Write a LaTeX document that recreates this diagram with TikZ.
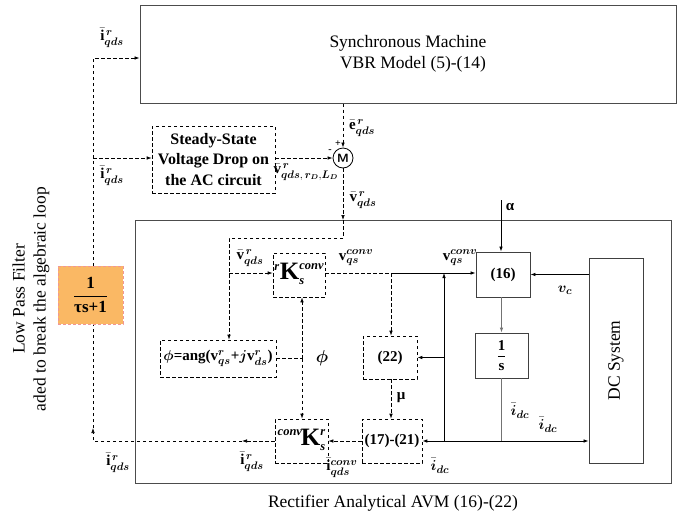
\documentclass[tikz,border=0pt]{standalone}
\usepackage{amsmath}
\usepackage{fontspec}
\setmainfont{Liberation Serif}
\usepackage{bm}
\usetikzlibrary{arrows.meta}
\newcommand{\iqr}{$\bar{\mathbf{i}}^{\,\bm r}_{\bm{qds}}$}
\newcommand{\vqr}{$\bar{\mathbf{v}}^{\,\bm r}_{\bm{qds}}$}
\newcommand{\vconv}{$\mathbf{v}^{\bm{conv}}_{\bm{qs}}$}
\newcommand{\idc}{$\bar{\bm{i}}_{\bm{dc}}$}
\newcommand{\smtx}[1]{{\fontsize{12.5}{13}\selectfont\bfseries\itshape #1}}
\newcommand{\bigK}{{\fontsize{25}{25}\selectfont\bfseries K}}
\begin{document}
\begin{tikzpicture}[x=1pt,y=-1pt,
  >={Latex[length=5pt,width=3.6pt]},
  dl/.style={dash pattern=on 3.5pt off 2.5pt, line width=0.7pt},
  sl/.style={line width=0.8pt},
  gl/.style={line width=0.9pt, draw=black!55},
  bigbox/.style={draw=black!70, line width=1pt, inner sep=0pt},
  dbox/.style={draw, dash pattern=on 3.5pt off 2.5pt, line width=0.7pt, inner sep=0pt, align=center},
  sbox/.style={draw=black!75, line width=0.9pt, inner sep=0pt, align=center},
  lab/.style={font=\fontsize{15}{16}\selectfont, inner sep=1pt},
  big/.style={font=\fontsize{17.5}{21}\selectfont},
  boxtxt/.style={font=\fontsize{15}{18}\selectfont\bfseries}
  ]
\useasboundingbox (0,0) rectangle (695,520);

% main boxes
\node[bigbox, minimum width=536, minimum height=98, big, align=center] (sm) at (408,54) {Synchronous Machine\\\hspace*{10pt}VBR Model (5)-(14)};
\node[dbox, minimum width=123, minimum height=67, font=\fontsize{16}{20.5}\selectfont\bfseries] (ss) at (213.5,159.5) {Steady-State\\Voltage Drop on\\the AC circuit};
\node[draw, circle, minimum size=20, inner sep=0pt, line width=0.8pt, font=\fontsize{12}{12}\selectfont\sffamily\bfseries] (sum) at (343,158) {M};
\node[bigbox, minimum width=536, minimum height=263] (rect) at (403,351.5) {};
\node[big] at (393,503) {Rectifier Analytical AVM (16)-(22)};

\node[dbox, minimum width=52, minimum height=44] (ku) at (299,275) {};
\node[sbox, minimum width=54, minimum height=45, boxtxt] (s16) at (503,274.5) {(16)};
\node[dbox, minimum width=54, minimum height=43, boxtxt] (s22) at (390,357.5) {(22)};
\node[sbox, minimum width=53, minimum height=45, font=\fontsize{15}{18}\selectfont] (ints) at (501.5,355.5) {$\dfrac{\mathbf{1}}{\mathbf{s}}$};
\node[sbox, minimum width=54, minimum height=205] (dc) at (616,360.5) {};
\node[rotate=90, big] at (dc) {DC System};
\node[dbox, minimum width=60, minimum height=44, boxtxt] (s17) at (392,441) {(17)-(21)};
\node[dbox, minimum width=53, minimum height=44] (kl) at (301.5,441) {};
\node[dbox, minimum width=116, minimum height=37, font=\fontsize{15}{18}\selectfont\bfseries] (phi) at (218,358.5) {$\bm{\phi}$=ang($\mathbf{v}^{\bm r}_{\bm{qs}}$+$\bm{j}\mathbf{v}^{\bm r}_{\bm{ds}}$)};

% K texts
\node[inner sep=0pt] at ([yshift=1pt]ku.center) {\raisebox{9pt}{\smtx{r}}\hspace{0.5pt}\bigK\rlap{\raisebox{-5pt}{\smtx{s}}}\raisebox{10pt}{\smtx{conv}}};
\node[inner sep=0pt] at ([yshift=1pt]kl.center) {\raisebox{10pt}{\smtx{conv}}\hspace{-1pt}\bigK\rlap{\raisebox{-5pt}{\smtx{s}}}\raisebox{10pt}{\smtx{r}}};

\node[big, rotate=90, align=center] at (31,299) {Low Pass Filter\\aded to break the algebraic loop};

% coordinates
\coordinate (cBot) at (93,441);
\coordinate (cMid) at (242,441);
\coordinate (cUp) at (93,428);
\coordinate (cTop) at (93,58);
\coordinate (cSS) at (93,158);
\coordinate (cRin) at (343,220);
\coordinate (cA) at (343,238);
\coordinate (cB) at (229,238);
\coordinate (cK) at (229,273);
\coordinate (cV) at (391,273);
\coordinate (cAl) at (501,200);
\coordinate (cJ) at (444,441);
\coordinate (cJ22) at (444,357.5);
\coordinate (cJup) at (444,273);
\coordinate (cPhi) at (302,358.5);

% dashed feedback loop
\draw[dl,->] (kl.west) -- (cMid);
\draw[dl,->] (cMid) -- (cBot) -- (cUp);
\draw[dl,->] (cUp) -- (cTop) -- (cTop-|sm.west);
\draw[dl,->] (cSS) -- (ss.west|-cSS);
\draw[dl,->] (ss.east|-sum) -- (sum.west);
\draw[dl,->] (sm.south-|sum) -- (sum.north);
\draw[dl,->] (sum.south) -- (cRin);
\draw[dl,->] (cRin) -- (cA) -- (cB) -- (phi.north-|cB);
\draw[dl,->] (cK) -- (ku.west|-cK);
\draw[dl] (ku.east|-cV) -- (cV);
\draw[sl,->] (cV) -- (s16.west|-cV);
\draw[dl,->] (cV) -- (s22.north-|cV);
\draw[dl,->] (s22.south-|cV) -- (s17.north-|cV);
\draw[dl,->] (s17.west) -- (kl.east);
\draw[dl] (phi.east|-cPhi) -- (cPhi);
\draw[dl,->] (cPhi) -- (cPhi|-ku.south);
\draw[dl,->] (cPhi) -- (cPhi|-kl.north);

% solid connectors
\draw[sl,->] (cAl) -- (cAl|-s16.north);
\draw[gl,->] (s16.south-|ints) -- (ints.north);
\draw[sl,->] (dc.west|-s16.east) -- (s16.east);
\draw[gl] (ints.south) -- (ints.south|-cJ);
\draw[sl,->] (cJ) -- (dc.west|-cJ);
\draw[sl,->] (cJ) -- (s17.east);
\draw[sl,->] (cJ) -- (cJup);
\draw[sl,->] (cJ22) -- (s22.east);

% filter block (over the line)
\node[fill={rgb,255:red,250;green,184;blue,100}, draw={rgb,255:red,240;green,150;blue,150}, dash pattern=on 3pt off 2pt, line width=0.8pt, minimum width=65, minimum height=58, inner sep=0pt, font=\fontsize{17}{20}\selectfont\bfseries] (flt) at (90.5,295) {$\dfrac{\textbf{1}}{\textbf{τs+1}}$};

% labels
\node[lab] at (112,38) {\iqr};
\node[lab] at (112,176) {\iqr};
\node[lab] at (252,462) {\iqr};
\node[lab] at (118,463) {\iqr};
\node[lab] at (362,128) {$\bar{\mathbf{e}}^{\,\bm r}_{\bm{qds}}$};
\node[lab] at (306,172) {$\bar{\mathbf{v}}^{\,\bm r}_{\bm{qds},\,\bm{r_D},\bm{L_D}}$};
\node[lab] at (363,200) {\vqr};
\node[lab] at (250,258) {\vqr};
\node[lab] at (356,258) {\vconv};
\node[lab] at (460,258) {\vconv};
\node[lab, font=\fontsize{15}{16}\selectfont\bfseries] at (510,207) {α};
\node[lab] at (565,290) {$\bm{v_c}$};
\node[lab] at (520,411) {\idc};
\node[lab] at (548,425) {\idc};
\node[lab] at (440,466) {\idc};
\node[lab, font=\fontsize{15}{16}\selectfont\bfseries] at (401,398) {μ};
\node[lab, font=\fontsize{16}{16}\selectfont] at (322,358) {$\bm{\phi}$};
\node[lab] at (342,468) {$\bar{\mathbf{i}}^{\bm{conv}}_{\bm{qds}}$};
\node[lab, font=\fontsize{10}{10}\selectfont\bfseries] at (338,144) {+};
\node[lab, font=\fontsize{10}{10}\selectfont\bfseries] at (330,151) {-};
\end{tikzpicture}
\end{document}
